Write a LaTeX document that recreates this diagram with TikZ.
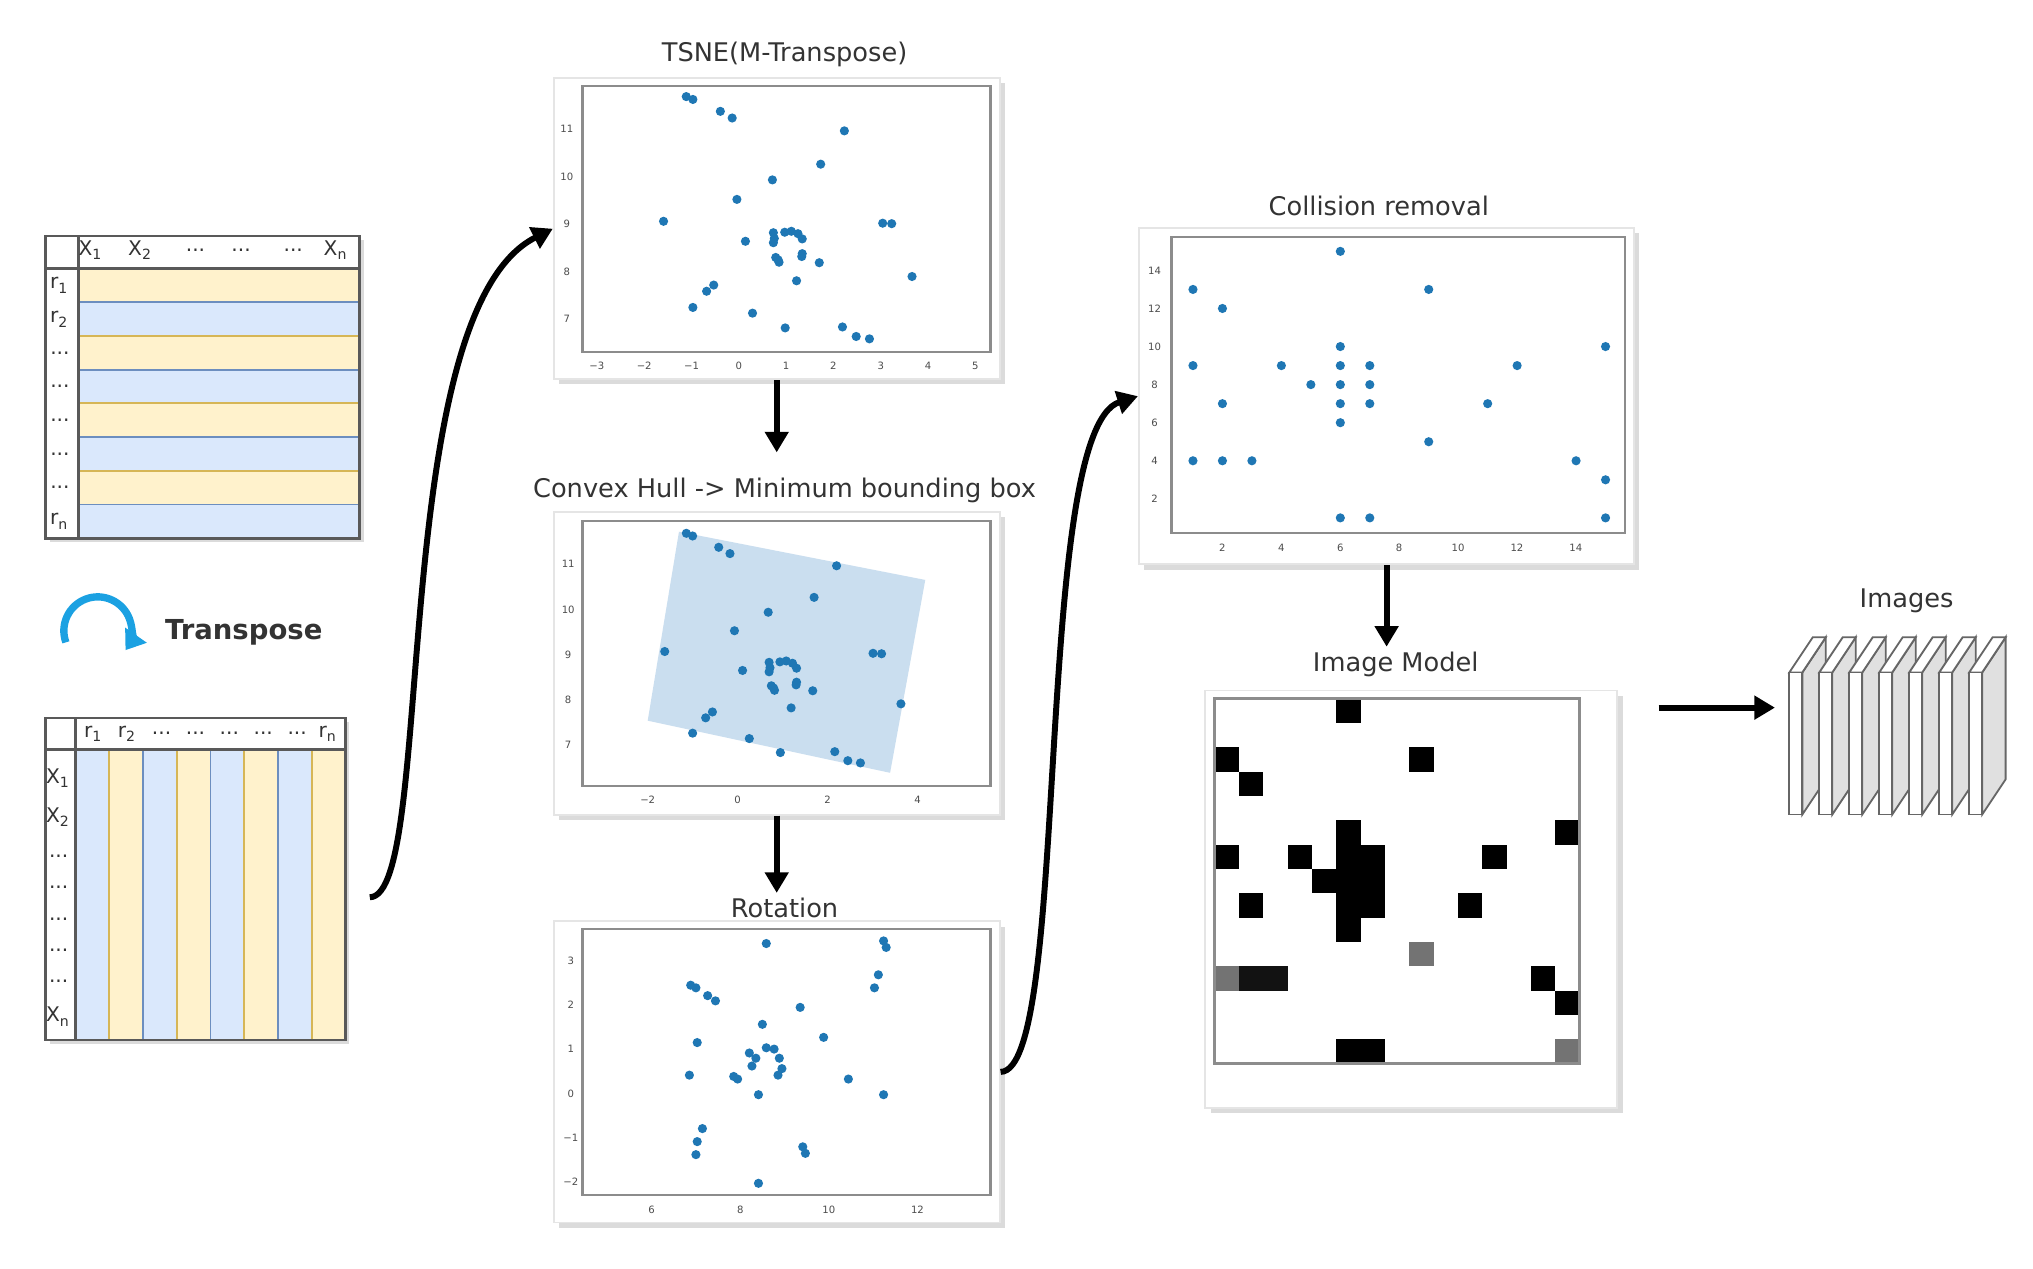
\documentclass[tikz,border=0pt]{standalone}
\usepackage{fontspec}
\setmainfont{DejaVu Sans}
\usetikzlibrary{arrows.meta,calc}
\definecolor{dot}{HTML}{1F77B4}
\definecolor{ylw}{HTML}{FFF2CC}
\definecolor{ylwd}{HTML}{D6B656}
\definecolor{blu}{HTML}{DAE8FC}
\definecolor{blud}{HTML}{6C8EBF}
\definecolor{hull}{HTML}{B9D3EA}
\definecolor{tr}{HTML}{1BA1E2}
\newcommand\mydots{{...}}
\newcommand\mn{{\char"2212\relax}}
\begin{document}
\begin{tikzpicture}[x=0.01cm,y=-0.01cm,
  title/.style={font=\fontsize{5.6}{6.5}\selectfont,text=black!80,inner sep=1pt},
  tick/.style={font=\fontsize{2.2}{3}\selectfont,text=black!70,inner sep=0pt},
  lab/.style={font=\fontsize{4.4}{5}\selectfont,text=black!80,inner sep=0pt},
  panel/.style={draw=black!10,fill=white,inner sep=0pt},
  conn/.style={line width=1.3pt,-{Triangle[length=4.5pt,width=5pt]}},
  sdw/.style={fill=black!14}]
\useasboundingbox (0,0) rectangle (1560,973);

% ---------- table 1 ----------
\fill[sdw] (38,184) rectangle (279,416);
\node[inner sep=0,minimum width=2.41cm,minimum height=2.32cm] (t1) at (155.5,297) {};
\fill[white] (35,181) rectangle (276,413);
\foreach \i/\c/\d in {0/ylw/ylwd,1/blu/blud,2/ylw/ylwd,3/blu/blud,4/ylw/ylwd,5/blu/blud,6/ylw/ylwd,7/blu/blud}
  \draw[fill=\c,draw=\d,line width=0.4pt] (60,{206+\i*25.875}) rectangle (276,{206+(\i+1)*25.875});
\draw[black!65,line width=0.6pt] (35,181) rectangle (276,413);
\draw[black!65,line width=0.6pt] (35,206) -- (276,206) (60,181) -- (60,413);
\foreach \x/\t in {70/X\textsubscript{1},108/X\textsubscript{2},150/\mydots,185/\mydots,225/\mydots,258/X\textsubscript{n}}
  \node[lab] at (\x,192) {\t};
\foreach \i/\t in {0/r\textsubscript{1},1/r\textsubscript{2},2/\mydots,3/\mydots,4/\mydots,5/\mydots,6/\mydots,7/r\textsubscript{n}}
  \node[lab] at (46,{219+\i*25.875}) {\t};

% ---------- transpose ----------
\draw[tr,line width=1.6pt,-{Triangle[length=4pt,width=5.5pt]}] (75,484) ++(-200:26) arc[start angle=-200,end angle=35,radius=26];
\node[font=\bfseries\fontsize{6}{7}\selectfont,text=black!80] (trl) at (187,485) {Transpose};

% ---------- table 2 ----------
\fill[sdw] (38,554) rectangle (268,801);
\node[inner sep=0,minimum width=2.30cm,minimum height=2.47cm] (t2) at (150,674.5) {};
\fill[white] (35,551) rectangle (265,798);
\foreach \i/\c/\d in {0/blu/blud,1/ylw/ylwd,2/blu/blud,3/ylw/ylwd,4/blu/blud,5/ylw/ylwd,6/blu/blud,7/ylw/ylwd}
  \draw[fill=\c,draw=\d,line width=0.4pt] ({58+\i*25.875},575) rectangle ({58+(\i+1)*25.875},798);
\draw[black!65,line width=0.6pt] (35,551) rectangle (265,798);
\draw[black!65,line width=0.6pt] (35,575) -- (265,575) (58,551) -- (58,798);
\foreach \x/\t in {72/r\textsubscript{1},98/r\textsubscript{2},124/\mydots,150/\mydots,176/\mydots,202/\mydots,228/\mydots,252/r\textsubscript{n}}
  \node[lab] at (\x,563) {\t};
\foreach \y/\t in {597/X\textsubscript{1},627/X\textsubscript{2},657/\mydots,681/\mydots,705/\mydots,729/\mydots,753/\mydots,780/X\textsubscript{n}}
  \node[lab] at (45,\y) {\t};

% ---------- TSNE panel ----------
\fill[sdw] (429,64) rectangle (771,295);
\node[panel,minimum width=3.42cm,minimum height=2.31cm] (tsne) at (596,175.5) {};
\node[title] (tsnet) at (602,42) {TSNE(M-Transpose)};
\draw[black!45,line width=0.5pt] (447,66) rectangle (760,270);
\foreach \v [count=\k from 0] in {\mn3,\mn2,\mn1,0,1,2,3,4,5} \node[tick] at ({458+\k*36.3},281) {\v};
\foreach \v [count=\k from 0] in {11,10,9,8,7} \node[tick] at (435,{99+\k*36.5}) {\v};
\begin{scope}[shift={(568,172)},x=0.363cm,y=0.365cm]
\foreach \a/\b in {-1.14/11.68,-1.0/11.62,-0.42/11.37,-0.17/11.23,2.20/10.96,1.70/10.26,0.68/9.93,-0.07/9.52,-1.62/9.06,3.01/9.02,3.20/9.01,0.11/8.64,0.70/8.82,0.70/8.61,0.94/8.83,1.08/8.85,1.22/8.80,1.31/8.69,0.75/8.30,0.82/8.20,1.31/8.38,1.67/8.19,3.63/7.90,1.19/7.81,-0.56/7.72,-0.71/7.59,-1.0/7.25,0.26/7.13,0.95/6.82,2.16/6.84,2.45/6.64,2.73/6.59,0.80/8.25,1.30/8.32,0.72/8.70}
  \fill[dot] (\a,\b-9) circle[radius=1pt];
\end{scope}

% ---------- Convex hull panel ----------
\fill[sdw] (429,397) rectangle (771,629);
\node[panel,minimum width=3.42cm,minimum height=2.32cm] (hullp) at (596,509) {};
\node[title] (hullt) at (602,376) {Convex Hull -> Minimum bounding box};
\draw[black!45,line width=0.5pt] (447,400) rectangle (760,603);
\fill[hull,opacity=0.75] (521,408) -- (710,445) -- (683,593) -- (497,553) -- cycle;
\foreach \v [count=\k from 0] in {\mn2,0,2,4} \node[tick] at ({497+\k*69},614) {\v};
\foreach \v [count=\k from 0] in {11,10,9,8,7} \node[tick] at (436,{433+\k*34.6}) {\v};
\begin{scope}[shift={(566,502)},x=0.345cm,y=0.346cm]
\foreach \a/\b in {-1.14/11.68,-1.0/11.62,-0.42/11.37,-0.17/11.23,2.20/10.96,1.70/10.26,0.68/9.93,-0.07/9.52,-1.62/9.06,3.01/9.02,3.20/9.01,0.11/8.64,0.70/8.82,0.70/8.61,0.94/8.83,1.08/8.85,1.22/8.80,1.31/8.69,0.75/8.30,0.82/8.20,1.31/8.38,1.67/8.19,3.63/7.90,1.19/7.81,-0.56/7.72,-0.71/7.59,-1.0/7.25,0.26/7.13,0.95/6.82,2.16/6.84,2.45/6.64,2.73/6.59,0.80/8.25,1.30/8.32,0.72/8.70}
  \fill[dot] (\a,\b-9) circle[radius=1pt];
\end{scope}

% ---------- Rotation panel ----------
\fill[sdw] (429,711) rectangle (771,942);
\node[panel,minimum width=3.42cm,minimum height=2.31cm] (rotp) at (596,822.5) {};
\node[title] (rott) at (602,697) {Rotation};
\draw[black!45,line width=0.5pt] (447,713) rectangle (760,917);
\foreach \v [count=\k from 0] in {6,8,10,12} \node[tick] at ({500+\k*68},928) {\v};
\foreach \v [count=\k from 0] in {3,2,1,0,\mn1,\mn2} \node[tick] at (438,{737+\k*34}) {\v};
\foreach \p in {(588,724),(678,722),(680,727),(674,748),(671,758),(530,756),(534,758),(543,764),(549,768),(585,786),(614,773),(535,800),(632,796),(575,808),(580,812),(588,804),(594,805),(598,812),(600,820),(597,825),(577,818),(582,840),(563,826),(566,828),(529,825),(651,828),(678,840),(539,866),(535,876),(534,886),(616,880),(618,885),(582,908)}
  \fill[dot] \p circle[radius=1pt];

% ---------- Collision panel ----------
\fill[sdw] (878,179) rectangle (1258,437);
\node[panel,minimum width=3.80cm,minimum height=2.58cm] (coll) at (1064,304) {};
\node[title] (collt) at (1058,158) {Collision removal};
\draw[black!45,line width=0.5pt] (899,182) rectangle (1247,409);
\foreach \v [count=\k from 1] in {2,4,6,8,10,12,14} \node[tick] at ({892.8+\k*2*22.6},420) {\v};
\foreach \v [count=\k from 1] in {2,4,6,8,10,12,14} \node[tick] at (886,{412-\k*2*14.6}) {\v};
\begin{scope}[shift={(892.8,412)},x=0.226cm,y=0.146cm]
\foreach \a/\b in {6/15,1/13,9/13,2/12,6/10,15/10,1/9,4/9,6/9,7/9,12/9,5/8,6/8,7/8,2/7,6/7,7/7,11/7,6/6,9/5,1/4,2/4,3/4,14/4,15/3,6/1,7/1,15/1}
  \fill[dot] (\a,\b) circle[radius=1pt];
\end{scope}

% ---------- Image model ----------
\fill[sdw] (929,534) rectangle (1245,854);
\node[panel,minimum width=3.16cm,minimum height=3.20cm] (imgp) at (1083,690) {};
\node[title] (imgt) at (1071,510) {Image Model};
\begin{scope}[shift={(932,536)},x=0.18667cm,y=-0.18667cm]
\foreach \a/\b in {6/15,1/13,9/13,2/12,6/10,15/10,1/9,4/9,6/9,7/9,12/9,5/8,6/8,7/8,2/7,6/7,7/7,11/7,6/6,14/4,15/3,6/1,7/1}
  \fill[black] (\a-1,15-\b) rectangle +(1,1);
\foreach \a/\b in {2/4,3/4}
  \fill[black!93] (\a-1,15-\b) rectangle +(1,1);
\foreach \a/\b in {9/5,1/4,15/1}
  \fill[black!55] (\a-1,15-\b) rectangle +(1,1);
\end{scope}
\draw[black!45,line width=0.5pt] (932,536) rectangle (1212,816);

% ---------- Images stack ----------
\node[title] (imst) at (1463,461) {Images};
\coordinate (stackin) at (1362,543);
\foreach \k in {0,...,6}{
  \pgfmathsetmacro\xx{1373+\k*23}
  \draw[black!60,line width=0.4pt,fill=black!12] (\xx+10,516) -- (\xx+28,489) -- (\xx+28,598) -- (\xx+10,625) -- cycle;
  \draw[black!60,line width=0.4pt,fill=white] (\xx,516) -- (\xx+18,489) -- (\xx+28,489) -- (\xx+10,516) -- cycle;
  \draw[black!60,line width=0.4pt,fill=white] (\xx,516) rectangle (\xx+10,625);
}

% ---------- connectors ----------
\draw[conn] ($(t2.east)+(18,14)$) .. controls (335,688) and (296,240) .. (tsne.west);
\draw[conn,shorten >=4.3pt] (tsne.south) -- (tsne.south |- hullt.north);
\draw[conn] (hullp.south) -- (hullp.south |- rott.north);
\draw[conn] (rotp.east) .. controls (822,822) and (792,330) .. (coll.west);
\draw[conn] (coll.south) -- (coll.south |- imgt.north);
\draw[conn,shorten <=8.8pt] (imgp.east |- stackin) -- (stackin);
\end{tikzpicture}
\end{document}
